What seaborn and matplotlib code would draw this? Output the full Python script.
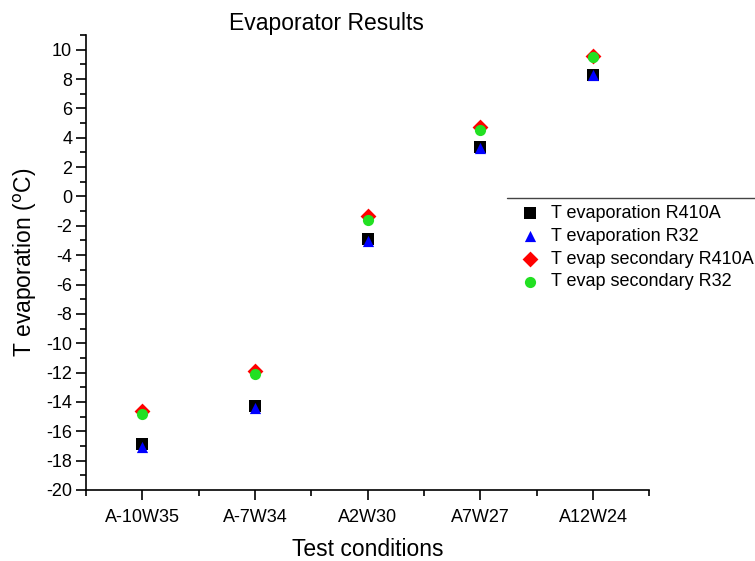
import matplotlib
matplotlib.use("Agg")
import matplotlib.pyplot as plt
from matplotlib.lines import Line2D
from matplotlib.ticker import MultipleLocator, FixedLocator
import seaborn as sns
import pandas as pd

conditions = ["A-10W35", "A-7W34", "A2W30", "A7W27", "A12W24"]
t_evap_r410a = [-16.9, -14.3, -2.9, 3.4, 8.3]
t_evap_r32 = [-17.1, -14.4, -3.05, 3.3, 8.25]
t_sec_r410a = [-14.6, -11.9, -1.35, 4.7, 9.6]
t_sec_r32 = [-14.85, -12.1, -1.6, 4.55, 9.5]

series = {
    "T evaporation R410A": t_evap_r410a,
    "T evaporation R32": t_evap_r32,
    "T evap secondary R410A": t_sec_r410a,
    "T evap secondary R32": t_sec_r32,
}
colors = {"T evaporation R410A": "black", "T evaporation R32": "#0000ff",
          "T evap secondary R410A": "#ff0000", "T evap secondary R32": "#22e022"}
markers = {"T evaporation R410A": "s", "T evaporation R32": "^",
           "T evap secondary R410A": "D", "T evap secondary R32": "o"}

rows = []
for name, vals in series.items():
    for i, v in enumerate(vals):
        rows.append({"pos": i, "cond": conditions[i], "T": v, "series": name})
df = pd.DataFrame(rows)

sns.set_style("white")
plt.rcParams["font.family"] = ["Liberation Sans", "DejaVu Sans"]
plt.rcParams["axes.unicode_minus"] = False
plt.rcParams["text.color"] = "black"
plt.rcParams["axes.labelcolor"] = "black"
plt.rcParams["xtick.color"] = "black"
plt.rcParams["ytick.color"] = "black"

fig = plt.figure(figsize=(7.55, 5.61), dpi=100)
ax = fig.add_axes([0.114, 0.1266, 0.746, 0.811])

for name in series:
    sub = df[df["series"] == name]
    sns.scatterplot(data=sub, x="pos", y="T", ax=ax, color=colors[name],
                    marker=markers[name], s=65, linewidth=0, label=name)

ax.set_xlim(-0.5, 4.5)
ax.set_ylim(-20, 11)
ax.xaxis.set_major_locator(FixedLocator(range(len(conditions))))
ax.set_xticklabels(conditions)
ax.xaxis.set_minor_locator(FixedLocator([i + 0.5 for i in range(-1, len(conditions))]))
ax.yaxis.set_major_locator(MultipleLocator(2))
ax.yaxis.set_minor_locator(MultipleLocator(1))

for side in ["top", "right"]:
    ax.spines[side].set_visible(False)
for side in ["left", "bottom"]:
    ax.spines[side].set_color("black")
    ax.spines[side].set_linewidth(1.2)

ax.tick_params(axis="y", which="major", direction="out", length=7, width=1.2,
               labelsize=13, left=True, pad=3)
ax.tick_params(axis="x", which="major", direction="out", length=7, width=1.2,
               labelsize=13, bottom=True, pad=7)
ax.tick_params(axis="both", which="minor", direction="out", length=4, width=1.2,
               bottom=True, left=True)

ax.set_xlabel("Test conditions", fontsize=16.5, labelpad=8)
ax.set_ylabel(r"T evaporation ($^\mathrm{o}$C)", fontsize=16.5, labelpad=5)
fig.text(0.433, 0.958, "Evaporator Results", fontsize=16.5, ha="center", va="center")

leg = ax.legend(loc="upper left", bbox_to_anchor=(519 / 755, 1 - 205 / 561),
                bbox_transform=fig.transFigure, frameon=False,
                fontsize=13, handletextpad=0.55, labelspacing=0.32,
                borderaxespad=0, borderpad=0, handlelength=1.2)
fig.add_artist(Line2D([507 / 755, 1.0], [1 - 198 / 561, 1 - 198 / 561],
                      color="#444444", linewidth=1.0, transform=fig.transFigure))

fig.savefig("out.png", dpi=100)
